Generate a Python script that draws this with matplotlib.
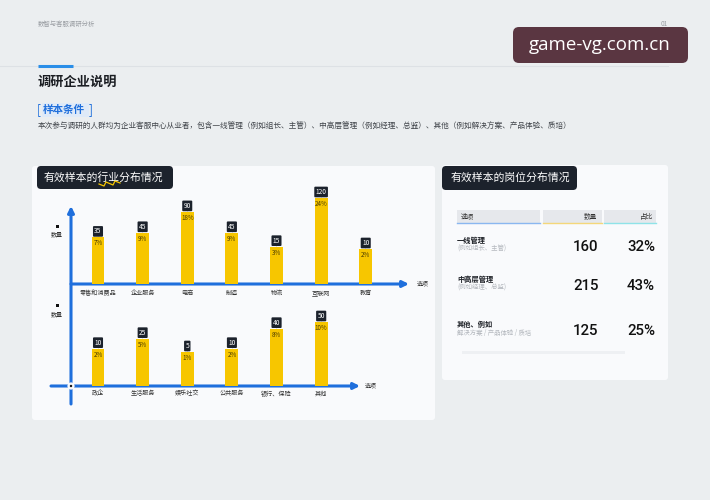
import numpy as np
import matplotlib
matplotlib.use('Agg')
import matplotlib.pyplot as plt
from matplotlib.patches import FancyBboxPatch, Rectangle, Circle

plt.rcParams['font.family'] = ['Noto Sans CJK SC', 'DejaVu Sans']

# --- data ---
industries_top = ['零售和消费品', '企业服务', '电商', '制造', '物流', '互联网', '教育']
counts_top = [35, 45, 90, 45, 15, 120, 10]
shares_top = ['7%', '9%', '18%', '9%', '3%', '24%', '2%']

industries_bottom = ['政企', '生活服务', '娱乐社交', '公共服务', '银行、保险', '其他']
counts_bottom = [10, 25, 5, 10, 40, 50]
shares_bottom = ['2%', '5%', '1%', '2%', '8%', '10%']

roles = ['一线管理', '中高层管理', '其他、例如']
role_notes = ['(例如组长、主管)', '(例如经理、总监)', '解决方案 / 产品体验 / 质培']
role_counts = [160, 215, 125]
role_shares = ['32%', '43%', '25%']

W, H = 710, 500
PAGE = '#ebeef0'
PANEL = '#f9fafc'
DARK = '#1c222c'
BLUE = '#1f6fdc'
YELLOW = '#f7c600'

fig = plt.figure(figsize=(W / 100, H / 100), dpi=100)
fig.patch.set_facecolor(PAGE)

# background axes in pixel coordinates (y down)
bg = fig.add_axes([0, 0, 1, 1])
bg.set_xlim(0, W)
bg.set_ylim(H, 0)
bg.axis('off')


def px_axes(left, top, right, bottom):
    return fig.add_axes([left / W, 1 - bottom / H, (right - left) / W, (bottom - top) / H])


def rbox(x0, y0, x1, y1, color, r=4, z=1, **kw):
    p = FancyBboxPatch((x0, y0), x1 - x0, y1 - y0,
                       boxstyle=f'round,pad=0,rounding_size={r}',
                       fc=color, ec='none', zorder=z, **kw)
    bg.add_patch(p)


# header
bg.text(38, 24, '数智与客服调研分析', fontsize=4.6, color='#9a9ea3', va='center')
bg.text(668, 24, '01', fontsize=4.6, color='#9a9ea3', va='center', ha='right')
bg.plot([0, 668], [65.5, 65.5], color='#dde1e5', lw=0.8)
bg.plot([38, 73], [65.5, 65.5], color='#2a8ee8', lw=2.2, solid_capstyle='butt')
bg.text(38, 82, '调研企业说明', fontsize=9.5, fontweight='bold', color='#1a1d22', va='center')
rbox(42, 103, 89, 117, '#dfeaf8', r=1)
bg.text(37, 110, '[', fontsize=8.5, color=BLUE, va='center')
bg.text(42.5, 110, '样本条件', fontsize=7.6, fontweight='bold', color=BLUE, va='center')
bg.text(89, 110, ']', fontsize=8.5, color=BLUE, va='center')
bg.text(38, 127, '本次参与调研的人群均为企业客服中心从业者，包含一线管理（例如组长、主管）、'
        '中高层管理（例如经理、总监）、其他（例如解决方案、产品体验、质培）',
        fontsize=5.5, color='#40444a', va='center')

# watermark
rbox(513, 27, 688, 63, '#5a3641', r=6, z=3)
bg.text(600, 45, 'game-vg.com.cn', fontsize=13.5, color='white', ha='center', va='center',
        family='Open Sans', zorder=4)

# panels
rbox(32, 166, 435, 420, PANEL, r=3)
rbox(442, 165, 668, 380, PANEL, r=3)
rbox(37, 166, 173, 189, DARK, r=4, z=2)
bg.text(44, 177.5, '有效样本的行业分布情况', fontsize=7.8, color='white', va='center', zorder=3)
bg.plot([99, 104, 106, 113, 115, 120], [184, 186, 182, 185, 181, 183], color=YELLOW, lw=0.9, zorder=4)
rbox(442, 166, 577, 190, DARK, r=4, z=2)
bg.text(451, 178, '有效样本的岗位分布情况', fontsize=7.8, color='white', va='center', zorder=3)

# axes arrows
arrow = dict(arrowstyle='-|>', color=BLUE, lw=2.2, mutation_scale=9, shrinkA=0, shrinkB=0)
bg.annotate('', xy=(71, 206), xytext=(71, 404), arrowprops=arrow)
bg.annotate('', xy=(409, 284), xytext=(71, 284), arrowprops=arrow)
bg.annotate('', xy=(360, 386), xytext=(51, 386), arrowprops=arrow)
bg.add_patch(Circle((71, 386), 3.6, fc=PANEL, ec='none', zorder=5))
bg.add_patch(Circle((71, 386), 1.2, fc='#111', ec='none', zorder=6))
for y_sq, y_txt, x_opt, y_opt in [(226, 234, 417, 284), (305, 314, 365, 386)]:
    bg.add_patch(Rectangle((55.5, y_sq - 1.5), 3, 3, fc='#111', ec='none'))
    bg.text(57, y_txt, '数量', fontsize=4.3, color='#333', ha='center', va='center')
    bg.text(x_opt, y_opt, '选项', fontsize=4.3, color='#333', ha='left', va='center')


def bar_panel(ax, labels, counts, shares, stub, top, xmax, pad):
    x = np.arange(len(counts))
    ax.bar(x, [c + stub for c in counts], bottom=-stub, width=0.29, color=YELLOW, zorder=2)
    ax.set_xlim(-0.605, xmax)
    ax.set_ylim(-stub, top)
    ax.set_xticks(x, labels, fontsize=4.4, color='#333')
    ax.tick_params(length=0, pad=pad)
    ax.set_yticks([])
    for s in ax.spines.values():
        s.set_visible(False)
    ax.patch.set_alpha(0)
    for xi, c, s in zip(x, counts, shares):
        ax.annotate('▼', (xi, c), xytext=(0, 1.5), textcoords='offset pixels',
                    ha='center', va='center', fontsize=2.6, color=DARK,
                    family='DejaVu Sans', zorder=3)
        ax.annotate(str(c), (xi, c), xytext=(0, 6), textcoords='offset pixels',
                    ha='center', va='center', fontsize=4.8, color='white', zorder=4,
                    bbox=dict(boxstyle='round,pad=0.2,rounding_size=0.15', fc=DARK, ec='none'))
        ax.annotate(s, (xi, c), xytext=(0, -6), textcoords='offset pixels',
                    ha='center', va='center', fontsize=4.5, color='#4a3b00', zorder=4)


# top chart: 0.464 px per unit, 30 px base stub
ax1 = px_axes(71, 185, 405, 284)
bar_panel(ax1, industries_top, counts_top, shares_top, 65.5, 148, 6.88, 3.5)
# bottom chart: 0.667 px per unit
ax2 = px_axes(71, 300, 356, 386)
bar_panel(ax2, industries_bottom, counts_bottom, shares_bottom, 46, 83, 5.78, 2.6)

# table on the right
bands = [(457, 540, '#8ab7f0'), (543, 602, '#f4d77a'), (604, 656, '#8fe3e8')]
for x0, x1, c in bands:
    bg.add_patch(Rectangle((x0, 210), x1 - x0, 13, fc='#e6e8ec', ec='none'))
    bg.plot([x0, x1], [223, 223], color=c, lw=1.0)
bg.text(461, 216.5, '选项', fontsize=4.8, color='#333', va='center')
bg.text(597, 216.5, '数量', fontsize=4.8, color='#333', va='center', ha='right')
bg.text(653, 216.5, '占比', fontsize=4.8, color='#333', va='center', ha='right')

row_y = [245, 284, 329]
for y, r, note, n, s in zip(row_y, roles, role_notes, role_counts, role_shares):
    bg.text(457, y - 5, r, fontsize=5.2, fontweight='bold', color='#1d2026', va='center')
    bg.text(457, y + 4, note, fontsize=4.6, color='#b4b8be', va='center')
    bg.text(586, y + 2, str(n), fontsize=10.8, color='#111', ha='center', va='center',
            family='Roboto', fontweight='medium')
    bg.text(655, y + 2, s, fontsize=10.8, color='#111', ha='right', va='center',
            family='Roboto', fontweight='medium')
bg.add_patch(Rectangle((462, 351), 163, 3, fc='#eef0f3', ec='none'))

fig.savefig('out.png', dpi=100, facecolor=fig.get_facecolor())
